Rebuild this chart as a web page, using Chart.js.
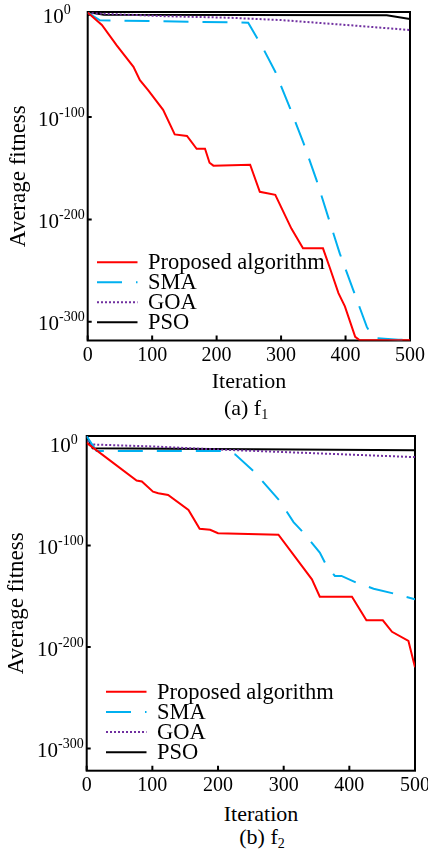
<!DOCTYPE html>
<html>
<head>
<meta charset="utf-8">
<script src="https://cdn.jsdelivr.net/npm/chart.js@4/dist/chart.umd.min.js"></script>
<style>
html, body { margin: 0; padding: 0; background: #fff; width: 428px; height: 853px; overflow: hidden; }
canvas { position: absolute; left: 0; display: block; }
.txt { position: absolute; width: 200px; text-align: center; font-family: "Liberation Serif", serif; font-size: 22px; line-height: 24px; color: #000; white-space: nowrap; }
.txt sub { font-size: 14px; vertical-align: -4px; line-height: 0; }
</style>
</head>
<body>
<canvas id="chart1" width="440" height="370" style="top:0px"></canvas>
<canvas id="chart2" width="440" height="380" style="top:420px"></canvas>
<div class="txt" style="left:149px; top:369px">Iteration</div>
<div class="txt" style="left:146px; top:396px">(a) f<sub>1</sub></div>
<div class="txt" style="left:161px; top:802px">Iteration</div>
<div class="txt" style="left:162px; top:825px">(b) f<sub>2</sub></div>
<script>
// noms des courbes
var seriesNames = ['Proposed algorithm', 'SMA', 'GOA', 'PSO'];
var xTicks = [0, 100, 200, 300, 400, 500];
var yTicks = [0, -100, -200, -300];   // exposants : 10^0 ... 10^-300

// f1 : exposant (log10) de la fitness moyenne
var f1ProposedIter = [0, 22, 45, 71, 81, 94, 117, 135, 154, 169, 182, 189, 195, 252, 267, 291, 316, 334, 365, 376, 389, 399, 415, 422, 500];
var f1ProposedLog  = [2, -10, -30, -51, -64, -74, -93, -117, -118.5, -131, -131, -144.6, -147.5, -146.6, -173, -176, -209, -228.3, -228.3, -248, -272, -285, -314.7, -318, -318];
var f1SmaIter = [0, 19, 249, 272, 291, 314, 335, 355, 373, 391, 412, 433, 443, 482, 500];
var f1SmaLog  = [2, -5.5, -7.8, -32.8, -55.7, -91.5, -125.7, -161.6, -197.5, -233.2, -269, -305, -315.7, -317.5, -318];
var f1GoaIter = [0, 120, 220, 300, 400, 500];
var f1GoaLog  = [1.5, -1.5, -3, -5.3, -10, -15];
var f1PsoIter = [0, 25, 464, 500];
var f1PsoLog  = [2.5, 0, -0.5, -4.3];

// f2
var f2ProposedIter = [0, 76, 84, 101, 109, 124, 155, 172, 188, 200, 292, 343, 355, 404, 426, 451, 465, 490, 500];
var f2ProposedLog  = [1, -36, -37, -47, -48.6, -50.3, -65, -83.5, -84.5, -88, -89.4, -133.3, -150.4, -150.4, -173.7, -173.7, -185, -194, -220];
var f2SmaIter = [0, 15, 208, 226, 254, 294, 315, 330, 355, 365, 378, 388, 411, 437, 472, 500];
var f2SmaLog  = [7.5, -7, -7, -10.3, -26.7, -56.2, -77, -87.4, -107, -119.6, -130, -130, -136.7, -142.6, -148, -153];
var f2GoaIter = [0, 5, 100, 200, 300, 400, 500];
var f2GoaLog  = [7.5, -0.5, -2.5, -5.5, -8, -10.5, -13];
var f2PsoIter = [0, 9, 500];
var f2PsoLog  = [7.5, -4.3, -6.3];

var FONT = '"Liberation Serif", serif';
var colors = ['rgb(255,0,0)', 'rgb(0,176,240)', 'rgb(112,48,160)', 'rgb(0,0,0)'];
var dashes = [[], [25, 14], [2, 2], []];

function toPoints(xs, ys) {
    var pts = [];
    for (var i = 0; i < xs.length; i++) pts.push({ x: xs[i], y: ys[i] });
    return pts;
}

function makeDatasets(list) {
    return list.map(function (s, i) {
        return {
            label: seriesNames[i],
            data: toPoints(s[0], s[1]),
            borderColor: colors[i],
            borderWidth: 2,
            borderDash: dashes[i],
            pointRadius: 0,
            tension: 0,
            fill: false
        };
    });
}

// cadre, graduations internes, étiquettes 10^n et légende
var framePlugin = {
    id: 'frame',
    beforeDatasetsDraw: function (chart) {
        var a = chart.chartArea, ctx = chart.ctx;
        var xs = chart.scales.x, ys = chart.scales.y;
        ctx.save();
        ctx.strokeStyle = '#000';
        ctx.lineWidth = 2;
        ctx.strokeRect(a.left, a.top, a.right - a.left, a.bottom - a.top);
        ctx.beginPath();
        xTicks.forEach(function (v) {
            var px = xs.getPixelForValue(v);
            ctx.moveTo(px, a.bottom);
            ctx.lineTo(px, a.bottom - 5);
        });
        yTicks.forEach(function (v) {
            var py = ys.getPixelForValue(v);
            ctx.moveTo(a.left, py);
            ctx.lineTo(a.left + 4, py);
        });
        ctx.stroke();
        ctx.restore();
    },
    afterDraw: function (chart) {
        var o = chart.options.plugins.frame;
        var a = chart.chartArea, ctx = chart.ctx, ys = chart.scales.y;
        ctx.save();
        ctx.fillStyle = '#000';
        ctx.textAlign = 'left';
        ctx.textBaseline = 'middle';
        yTicks.forEach(function (v) {
            var py = ys.getPixelForValue(v);
            var sup = String(v);
            ctx.font = '21px ' + FONT;
            var wb = ctx.measureText('10').width;
            ctx.font = '14px ' + FONT;
            var ws = ctx.measureText(sup).width;
            var x0 = a.left - 3 - ws - wb - (v === 0 ? o.zeroShift : 0);
            ctx.font = '21px ' + FONT;
            ctx.fillText('10', x0, py + 3);
            ctx.font = '14px ' + FONT;
            ctx.fillText(sup, x0 + wb, py - 4);
        });
        // légende
        chart.data.datasets.forEach(function (ds, i) {
            var y = o.legendY + i * o.legendStep;
            ctx.save();
            ctx.beginPath();
            ctx.rect(o.legendX, y - 3, 40.5, 6);
            ctx.clip();
            ctx.strokeStyle = ds.borderColor;
            ctx.lineWidth = 2;
            ctx.setLineDash(ds.borderDash);
            ctx.beginPath();
            ctx.moveTo(o.legendX, y);
            ctx.lineTo(o.legendX + 60, y);
            ctx.stroke();
            ctx.restore();
            ctx.font = '22.5px ' + FONT;
            ctx.fillStyle = '#000';
            ctx.fillText(ds.label, o.legendX + 51, y + 1);
        });
        ctx.restore();
    }
};

function buildChart(id, list, box, yMin, yMax, extra) {
    var cv = document.getElementById(id);
    return new Chart(cv.getContext('2d'), {
        type: 'line',
        data: { datasets: makeDatasets(list) },
        plugins: [framePlugin],
        options: {
            responsive: false,
            animation: false,
            layout: { padding: { top: box.top, right: cv.width - box.right, bottom: 0, left: 0 } },
            plugins: {
                legend: { display: false },
                tooltip: { enabled: false },
                frame: extra
            },
            scales: {
                x: {
                    type: 'linear', min: 0, max: 500,
                    grid: { display: false, drawTicks: false },
                    border: { display: false },
                    ticks: { stepSize: 100, padding: 3, color: '#000', font: { family: FONT, size: 20 }, maxRotation: 0 },
                    afterFit: function (s) { s.height = cv.height - box.bottom; }
                },
                y: {
                    type: 'linear', min: yMin, max: yMax,
                    grid: { display: false, drawTicks: false },
                    border: { display: false },
                    ticks: { display: false },
                    title: { display: true, text: 'Average fitness', color: '#000', font: { family: FONT, size: 23 }, padding: { top: extra.titlePad, bottom: 0 } },
                    afterFit: function (s) { s.width = box.left; }
                }
            }
        }
    });
}

buildChart('chart1', [
    [f1ProposedIter, f1ProposedLog],
    [f1SmaIter, f1SmaLog],
    [f1GoaIter, f1GoaLog],
    [f1PsoIter, f1PsoLog]
], { left: 87.7, right: 410, top: 12, bottom: 340.5 }, -318.3, 2.6,
   { zeroShift: 14, legendX: 97, legendY: 262.3, legendStep: 20, titlePad: 5.5 });

buildChart('chart2', [
    [f2ProposedIter, f2ProposedLog],
    [f2SmaIter, f2SmaLog],
    [f2GoaIter, f2GoaLog],
    [f2PsoIter, f2PsoLog]
], { left: 86.7, right: 415, top: 16, bottom: 350.7 }, -321.8, 7.8,
   { zeroShift: 6, legendX: 106, legendY: 271.7, legendStep: 20.2, titlePad: 3 });
</script>
</body>
</html>
